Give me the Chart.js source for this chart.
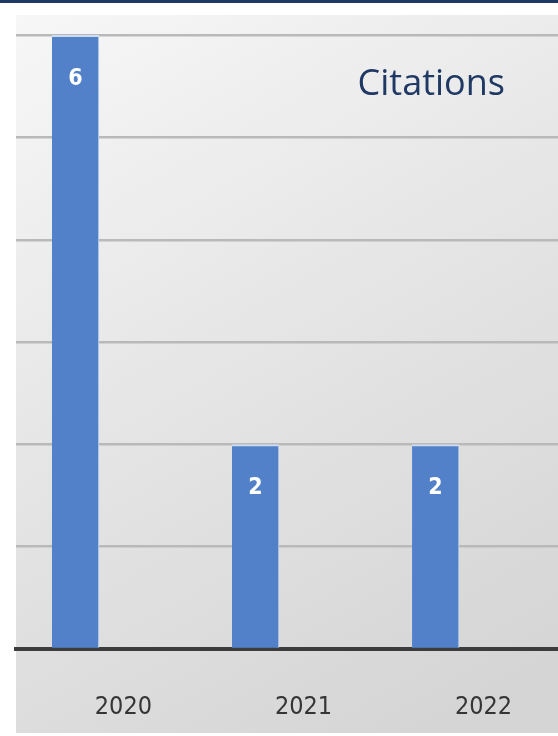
<!DOCTYPE html>
<html>
<head>
<meta charset="utf-8">
<script src="https://cdn.jsdelivr.net/npm/chart.js@4/dist/chart.umd.min.js"></script>
<style>
  html, body { margin: 0; padding: 0; background: #ffffff; }
  #wrap { position: relative; width: 558px; height: 736px; }
</style>
</head>
<body>
<div id="wrap"><canvas id="citationsChart"></canvas></div>
<script>
const years = ["2020", "2021", "2022"];
const citations = [6, 2, 2];
const yTicks = [0, 1, 2, 3, 4, 5, 6];

// panel background, top rule and title
const backdrop = {
  id: "backdrop",
  beforeDraw(chart) {
    const ctx = chart.ctx;
    ctx.save();
    ctx.fillStyle = "#ffffff";
    ctx.fillRect(0, 0, chart.width, chart.height);
    ctx.fillStyle = "#203864";
    ctx.fillRect(0, 0, chart.width, 3);
    const g = ctx.createLinearGradient(16, 15, 420, 733);
    g.addColorStop(0, "#f7f7f7");
    g.addColorStop(0.5, "#e5e5e5");
    g.addColorStop(1, "#d5d5d5");
    ctx.fillStyle = g;
    ctx.fillRect(16, 15, chart.width - 16, 718);
    ctx.restore();
  },
  afterDraw(chart) {
    const ctx = chart.ctx;
    ctx.save();
    ctx.fillStyle = "#1f3864";
    ctx.font = "36px 'Open Sans', 'Noto Sans', sans-serif";
    ctx.textAlign = "right";
    ctx.textBaseline = "alphabetic";
    ctx.fillText("Citations", 505, 95);
    ctx.restore();
  },
};

const barLabels = {
  id: "barLabels",
  afterDatasetsDraw(chart) {
    const ctx = chart.ctx;
    const meta = chart.getDatasetMeta(0);
    ctx.save();
    ctx.fillStyle = "#ffffff";
    ctx.font = "bold 23px 'DejaVu Sans Condensed', sans-serif";
    ctx.textAlign = "center";
    ctx.textBaseline = "middle";
    meta.data.forEach((bar, i) => {
      ctx.fillText(String(citations[i]), bar.x, bar.y + 44);
    });
    ctx.restore();
  },
};

new Chart(document.getElementById("citationsChart"), {
  type: "bar",
  data: {
    datasets: [
      {
        label: "Citations",
        data: citations.map((v, i) => ({ x: i, y: v })),
        backgroundColor: "#5280c9",
        borderColor: "#cddcf1",
        borderWidth: { top: 2, right: 1, left: 0, bottom: 0 },
        borderSkipped: "bottom",
        barThickness: 47,
      },
    ],
  },
  options: {
    responsive: true,
    maintainAspectRatio: false,
    animation: false,
    layout: { padding: { top: 15, left: 16, right: 0, bottom: 0 } },
    plugins: {
      legend: { display: false },
      tooltip: { enabled: false },
    },
    scales: {
      x: {
        type: "linear",
        offset: false,
        min: -0.33,
        max: 2.68,
        afterBuildTicks: (s) => { s.ticks = years.map((_, i) => ({ value: i })); },
        afterFit: (s) => { s.height = 87; },
        grid: { display: false },
        border: { display: true, color: "#3c3c3c", width: 4 },
        ticks: {
          callback: (v) => years[v],
          labelOffset: 48,
          padding: 35,
          maxRotation: 0,
          autoSkip: false,
          color: "#353535",
          font: { family: "'DejaVu Sans Condensed', sans-serif", size: 25 },
        },
      },
      y: {
        min: 0,
        max: 6.2,
        afterBuildTicks: (s) => { s.ticks = yTicks.map((v) => ({ value: v })); },
        afterFit: (s) => { s.width = 0; },
        grid: { color: "#b9b9b9", lineWidth: 2.5, drawTicks: false },
        border: { display: false },
        ticks: { display: false },
      },
    },
  },
  plugins: [backdrop, barLabels],
});
</script>
</body>
</html>
